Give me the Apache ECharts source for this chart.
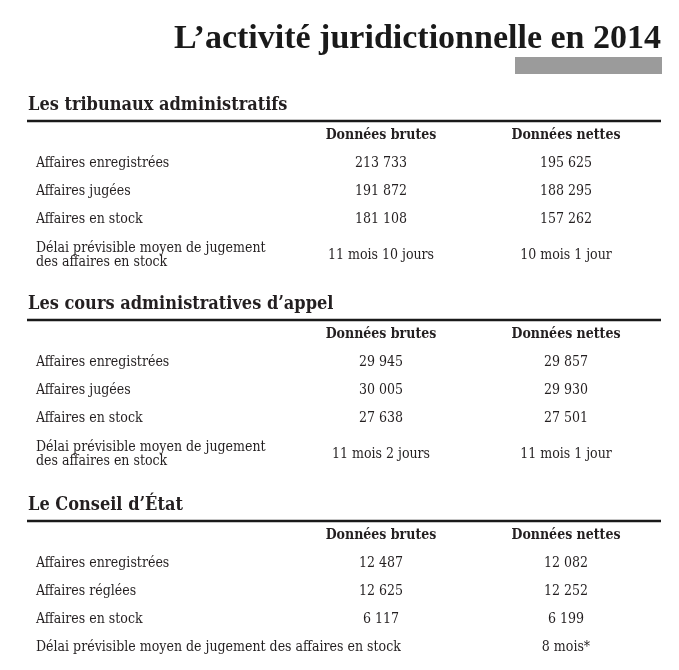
<!DOCTYPE html>
<html>
<head>
<meta charset="utf-8">
<script src="https://cdn.jsdelivr.net/npm/echarts@6/dist/echarts.min.js"></script>
<style>
html, body { margin: 0; padding: 0; background: #fff; }
#main { width: 679px; height: 670px; }
</style>
</head>
<body>
<div id="main"></div>
<script>
var dom = document.getElementById('main')
var chart = echarts.init(dom)

var title = 'L’activité juridictionnelle en 2014'
var sections = ['Les tribunaux administratifs', 'Les cours administratives d’appel', 'Le Conseil d’État']
var columns = ['Données brutes', 'Données nettes']
var rowLabels = [
    ['Affaires enregistrées', 'Affaires jugées', 'Affaires en stock', 'Délai prévisible moyen de jugement\ndes affaires en stock'],
    ['Affaires enregistrées', 'Affaires jugées', 'Affaires en stock', 'Délai prévisible moyen de jugement\ndes affaires en stock'],
    ['Affaires enregistrées', 'Affaires réglées', 'Affaires en stock', 'Délai prévisible moyen de jugement des affaires en stock']
]
var brutes = [
    [213733, 191872, 181108, '11 mois 10 jours'],
    [29945, 30005, 27638, '11 mois 2 jours'],
    [12487, 12625, 6117, '']
]
var nettes = [
    [195625, 188295, 157262, '10 mois 1 jour'],
    [29857, 29930, 27501, '11 mois 1 jour'],
    [12082, 12252, 6199, '8 mois*']
]

var bodyFont = '"DejaVu Serif Condensed", "DejaVu Serif", serif'
var sectionTop = [105, 304, 505]
var rowOffset = [58, 86, 114, 150]
var colX = [381, 566]

function fmt(v) {
    if (typeof v !== 'number') return v
    return String(v).replace(/\B(?=(\d{3})+(?!\d))/g, ' ')
}

function txt(x, y, s, opt) {
    return {
        type: 'text',
        x: x, y: y,
        style: Object.assign({
            text: s,
            fill: '#231f20',
            font: '14px ' + bodyFont,
            textAlign: 'left',
            textVerticalAlign: 'middle',
            lineHeight: 14
        }, opt || {})
    }
}

var elements = []

elements.push(txt(661, 39, title, {
    font: 'bold 34px "Liberation Serif", serif',
    textAlign: 'right',
    fill: '#1a1a1a'
}))
elements.push({
    type: 'rect',
    shape: { x: 515, y: 57, width: 147, height: 17 },
    style: { fill: '#9b9b9b' }
})

sections.forEach(function (name, i) {
    var top = sectionTop[i]
    elements.push(txt(28, top, name, { font: 'bold 18px ' + bodyFont }))
    elements.push({
        type: 'line',
        shape: { x1: 27, y1: top + 16, x2: 661, y2: top + 16 },
        style: { stroke: '#1a1a1a', lineWidth: 2.5 }
    })
    columns.forEach(function (c, j) {
        elements.push(txt(colX[j], top + 30, c, { font: 'bold 14px ' + bodyFont, textAlign: 'center' }))
    })
    rowLabels[i].forEach(function (lab, r) {
        var y = top + rowOffset[r]
        if (i === 2 && r === 3) y = top + 142
        elements.push(txt(36, y, lab))
        if (brutes[i][r] !== '') elements.push(txt(colX[0], y, fmt(brutes[i][r]), { textAlign: 'center' }))
        elements.push(txt(colX[1], y, fmt(nettes[i][r]), { textAlign: 'center' }))
    })
})

chart.setOption({
    backgroundColor: '#fff',
    animation: false,
    graphic: { elements: elements }
})
</script>
</body>
</html>
